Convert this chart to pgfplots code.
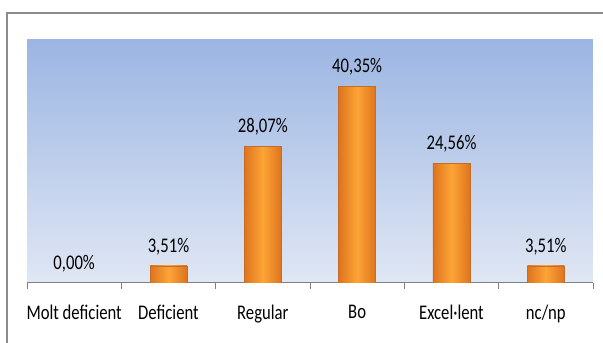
\documentclass[border=0pt]{standalone}
\usepackage{pgfplots}
\pgfplotsset{compat=1.18}
\usepackage{fontspec}
\setmainfont{Carlito}

\definecolor{bgtop}{RGB}{155,181,226}
\definecolor{bgbot}{RGB}{224,231,244}
\definecolor{barmid}{RGB}{253,164,54}
\definecolor{baredge}{RGB}{222,116,30}
\definecolor{barline}{RGB}{196,108,40}
\definecolor{framegray}{RGB}{140,140,140}

\pgfplotsset{orangebar/.style={draw=barline, line width=0.4pt,
    left color=baredge, right color=baredge, middle color=barmid}}

\begin{document}
\begin{tikzpicture}
\useasboundingbox (-16.2pt,-36pt) rectangle (345.6pt,169.8pt);
\draw[framegray, line width=0.9pt] (-12pt,-60pt) rectangle (380pt,162pt);

\begin{axis}[
    at={(0pt,0pt)}, anchor=south west,
    scale only axis,
    width=339.6pt, height=146.4pt,
    ybar, bar width=22.2pt, bar shift=0pt,
    xmin=-0.5, xmax=5.5,
    ymin=0, ymax=50,
    axis x line*=bottom,
    axis y line=none,
    x axis line style={draw=gray, line width=0.6pt},
    axis background/.style={top color=bgtop, bottom color=bgbot},
    xtick={0,...,5},
    xticklabels={Molt deficient,Deficient,Regular,Bo,Excel·lent,nc/np},
    major tick length=0pt,
    minor xtick={-0.5,0.5,...,5.5},
    minor tick length=3.5pt,
    tick align=outside,
    minor tick style={gray, line width=0.5pt},
    ytick=\empty,
    /pgf/number format/assume math mode=true,
    xticklabel style={font=\fontsize{10}{12}\selectfont, yscale=1.25, yshift=-7pt},
    nodes near coords={\pgfmathprintnumber[fixed,fixed zerofill,precision=2,use comma]{\pgfplotspointmeta}\%},
    nodes near coords style={text=black, font=\fontsize{10}{12}\selectfont, yscale=1.25, yshift=1.5pt},
]
% Molt deficient
\addplot[orangebar, draw=none] coordinates {(0,0)};
% Deficient
\addplot[orangebar] coordinates {(1,3.51)};
% Regular
\addplot[orangebar] coordinates {(2,28.07)};
% Bo
\addplot[orangebar] coordinates {(3,40.35)};
% Excel·lent
\addplot[orangebar] coordinates {(4,24.56)};
% nc/np
\addplot[orangebar] coordinates {(5,3.51)};
\end{axis}
\end{tikzpicture}
\end{document}
